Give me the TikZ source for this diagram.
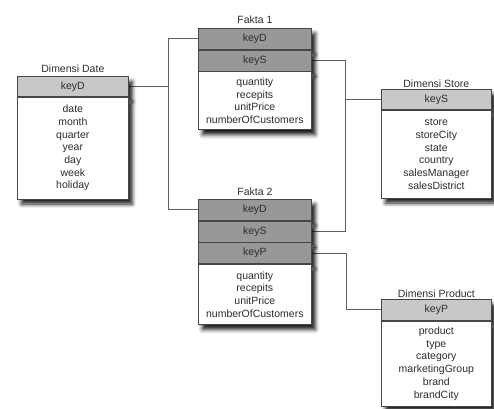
\documentclass[tikz,border=0pt]{standalone}
\usepackage{fontspec}
\setmainfont{Liberation Sans}
\usetikzlibrary{positioning, shadows.blur, backgrounds}
\definecolor{dimkey}{RGB}{200,200,200}
\definecolor{factkey}{RGB}{152,152,152}
\definecolor{edge}{RGB}{70,70,70}
\definecolor{wire}{RGB}{95,95,95}
\definecolor{ink}{RGB}{45,45,45}

\begin{document}
\begin{tikzpicture}[
    x=1pt, y=-1pt,
    font=\fontsize{10.5}{12.7}\selectfont,
    cell/.style={draw=edge, line width=0.7pt, inner sep=0pt, text=ink,
        blur shadow={shadow xshift=4pt, shadow yshift=-5pt, shadow blur radius=4pt, shadow opacity=90}},
    dimhead/.style={cell, fill=dimkey, minimum height=20pt},
    factrow/.style={cell, fill=factkey, minimum height=21pt},
    attrs/.style={cell, fill=white, align=center},
    title/.style={text=ink, inner sep=1pt},
    link/.style={draw=wire, line width=0.8pt}
]
\useasboundingbox (0,0) rectangle (494,408);

% Dimensi Date
\node[dimhead, minimum width=111pt, anchor=north west] (dkeyD) at (17,76) {keyD};
\node[attrs, minimum width=111pt, minimum height=102pt, below=0pt of dkeyD] (dattr) {date\\month\\quarter\\year\\day\\week\\holiday};
\node[title, above=2pt of dkeyD] (dtitle) {Dimensi Date};

% Fakta 1
\node[factrow, minimum width=113pt, anchor=north west] (f1keyD) at (198,28) {keyD};
\node[factrow, minimum width=113pt, below=0pt of f1keyD] (f1keyS) {keyS};
\node[attrs, minimum width=113pt, minimum height=58pt, below=0pt of f1keyS] (f1attr) {quantity\\recepits\\unitPrice\\numberOfCustomers};
\node[title, above=3pt of f1keyD] (f1title) {Fakta 1};

% Fakta 2
\node[factrow, minimum width=113pt, anchor=north west] (f2keyD) at (198,199) {keyD};
\node[factrow, minimum width=113pt, below=0pt of f2keyD] (f2keyS) {keyS};
\node[factrow, minimum width=113pt, below=0pt of f2keyS] (f2keyP) {keyP};
\node[attrs, minimum width=113pt, minimum height=60pt, below=0pt of f2keyP] (f2attr) {quantity\\recepits\\unitPrice\\numberOfCustomers};
\node[title, above=2pt of f2keyD] (f2title) {Fakta 2};

% Dimensi Store
\node[dimhead, minimum width=110pt, anchor=north west] (skeyS) at (381,89) {keyS};
\node[attrs, minimum width=110pt, minimum height=88pt, below=0pt of skeyS] (sattr) {store\\storeCity\\state\\country\\salesManager\\salesDistrict};
\node[title, above=0pt of skeyS] (stitle) {Dimensi Store};

% Dimensi Product
\node[dimhead, minimum width=110pt, minimum height=21pt, anchor=north west] (pkeyP) at (381,299) {keyP};
\node[attrs, minimum width=110pt, minimum height=85pt, below=0pt of pkeyP] (pattr) {product\\type\\category\\marketingGroup\\brand\\brandCity};
\node[title, above=0pt of pkeyP] (ptitle) {Dimensi Product};

% relasi
\coordinate (busD) at (168,0);
\coordinate (busS) at (345,0);
\coordinate (busP) at (346,0);
\begin{scope}[on background layer]
\draw[link] (f1keyD.west) -- (f1keyD.west -| busD) -- (f2keyD.west -| busD) -- (f2keyD.west);
\draw[link] (dkeyD.east) -- (dkeyD.east -| busD);
\draw[link] (f1keyS.east) -- (f1keyS.east -| busS) -- (f2keyS.east -| busS) -- (f2keyS.east);
\draw[link] (skeyS.west) -- (skeyS.west -| busS);
\draw[link] (f2keyP.east) -- (f2keyP.east -| busP) |- (pkeyP.west);
\end{scope}

\end{tikzpicture}
\end{document}
